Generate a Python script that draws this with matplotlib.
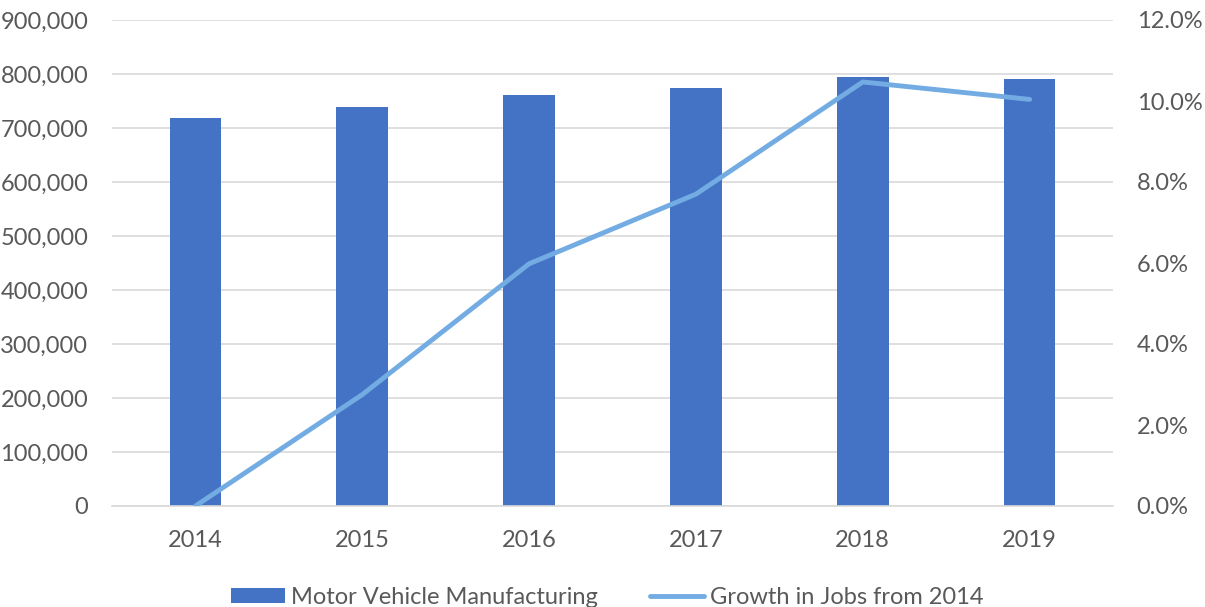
import matplotlib
matplotlib.use("Agg")
import matplotlib.pyplot as plt
from matplotlib.ticker import FuncFormatter, MultipleLocator
from matplotlib.lines import Line2D
from matplotlib.patches import Patch

years = ["2014", "2015", "2016", "2017", "2018", "2019"]
jobs = [718000, 738000, 762000, 773500, 794000, 790000]
growth_pct = [0.0, 2.75, 5.98, 7.70, 10.47, 10.04]

bar_color = "#4472C4"
line_color = "#72ACE3"
text_color = "#595959"
grid_color = "#D9D9D9"

plt.rcParams["font.family"] = ["Lato", "DejaVu Sans"]
fs = 17

fig = plt.figure(figsize=(12.05, 6.07), dpi=100)
ax = fig.add_axes([112 / 1205, 1 - 506 / 607, (1113 - 112) / 1205, (506 - 20) / 607])
ax2 = ax.twinx()

x = list(range(len(years)))
ax.bar(x, jobs, width=0.31, color=bar_color, zorder=2)
ax2.plot(x, growth_pct, color=line_color, linewidth=3.5, solid_capstyle="round", zorder=3)

ax.set_xlim(-0.5, len(years) - 0.5)
ax.set_ylim(0, 900000)
ax2.set_ylim(0, 12)
ax.yaxis.set_major_locator(MultipleLocator(100000))
ax2.yaxis.set_major_locator(MultipleLocator(2))
ax.yaxis.set_major_formatter(FuncFormatter(lambda v, p: f"{int(v):,}"))
ax2.yaxis.set_major_formatter(FuncFormatter(lambda v, p: f"{v:.1f}%"))

ax.set_xticks(x)
ax.set_xticklabels(years)

ax.grid(axis="y", color=grid_color, linewidth=1.2, zorder=0)
ax.set_axisbelow(True)
ax2.set_zorder(ax.get_zorder() + 1)
ax2.patch.set_visible(False)

for a in (ax, ax2):
    for s in a.spines.values():
        s.set_visible(False)
    a.tick_params(length=0, labelsize=fs, colors=text_color)
ax.spines["bottom"].set_visible(True)
ax.spines["bottom"].set_color(grid_color)
ax.spines["bottom"].set_linewidth(1.2)
ax.tick_params(axis="x", pad=17)
ax.tick_params(axis="y", pad=17)
ax2.tick_params(axis="y", pad=17)

handles = [
    Patch(facecolor=bar_color, edgecolor="none"),
    Line2D([0], [0], color=line_color, linewidth=3.5, solid_capstyle="round"),
]
labels = ["Motor Vehicle Manufacturing", "Growth in Jobs from 2014"]
fig.legend(handles, labels, loc="center", bbox_to_anchor=(607 / 1205, 1 - 597 / 607),
           ncol=2, frameon=False, fontsize=fs, labelcolor=text_color,
           handlelength=2.3, handleheight=0.6, handletextpad=0.25, columnspacing=2.2,
           borderpad=0)

fig.savefig("out.png", dpi=100)
